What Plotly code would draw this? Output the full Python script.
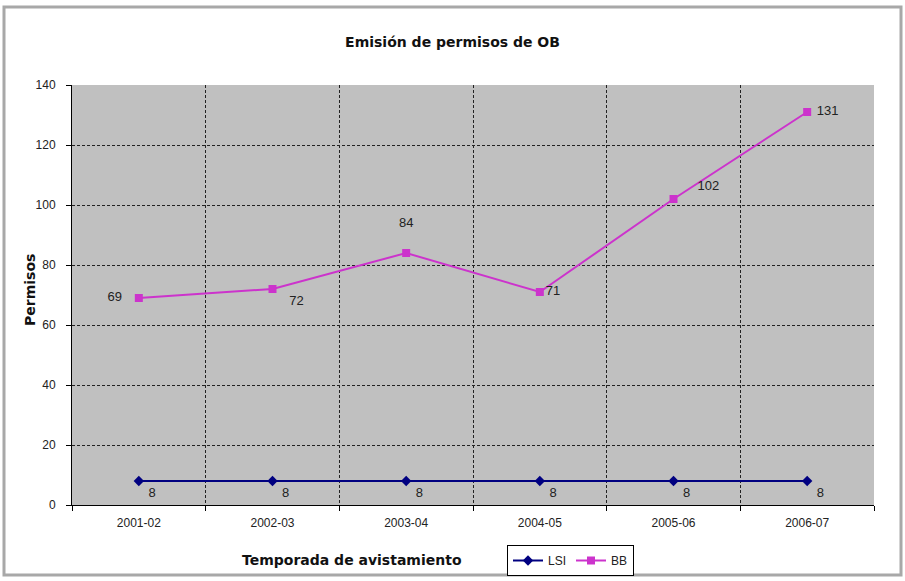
import plotly.graph_objects as go

seasons = ["2001-02", "2002-03", "2003-04", "2004-05", "2005-06", "2006-07"]
lsi = [8, 8, 8, 8, 8, 8]
bb = [69, 72, 84, 71, 102, 131]
bb_textpos = ["middle left", "bottom right", "top center", "middle right", "top right", "middle right"]
lsi_textpos = ["bottom right"] * 6
NB = "\u00a0"
bb_text = [f"{bb[0]}{NB*3}", f"{NB*3}{bb[1]}", f"{bb[2]}<br>{NB}", f"{bb[3]}", f"{NB*5}{bb[4]}", f"{NB}{bb[5]}"]
lsi_text = [f"{NB}{v}" for v in lsi]

FONT = "Liberation Sans, Arial, sans-serif"
BFONT = "DejaVu Sans, Verdana, sans-serif"

W, H = 905, 581
L, R, T, B = 72, 31, 85, 76
PW, PH = W - L - R, H - T - B


def px(x):
    return (x - L) / PW


def py(y):
    return (H - B - y) / PH


fig = go.Figure()
fig.add_trace(go.Scatter(
    x=seasons, y=lsi, name="LSI", mode="lines+markers+text",
    line=dict(color="#000080", width=2),
    marker=dict(symbol="diamond", size=8, color="#000080"),
    text=lsi_text, textposition=lsi_textpos,
    textfont=dict(family=FONT, size=13, color="#222222"),
))
fig.add_trace(go.Scatter(
    x=seasons, y=bb, name="BB", mode="lines+markers+text",
    line=dict(color="#cc33cc", width=2),
    marker=dict(symbol="square", size=8, color="#cc33cc"),
    text=bb_text, textposition=bb_textpos,
    textfont=dict(family=FONT, size=13, color="#222222"),
))

fig.update_layout(
    width=W, height=H,
    margin=dict(l=L, r=R, t=T, b=B, autoexpand=False),
    paper_bgcolor="white", plot_bgcolor="#c0c0c0",
    font=dict(family=FONT, size=12, color="#222222"),
    title=dict(text="<b>Emisión de permisos de OB</b>", x=0.5, xanchor="center",
               y=1 - 42 / H, yanchor="middle", font=dict(family=BFONT, size=14, color="#111111")),
    showlegend=True,
    legend=dict(orientation="h", xref="container", yref="container",
                x=507 / W, y=1 - 545 / H, xanchor="left", yanchor="top",
                bordercolor="#000000", borderwidth=1, bgcolor="white",
                font=dict(family=FONT, size=12, color="#222222"),
                itemwidth=30, tracegroupgap=0),
    xaxis=dict(
        type="category", range=[-0.5, 5.5], tickson="boundaries",
        showgrid=True, gridcolor="#222222", gridwidth=1, griddash="3px,2px",
        showline=True, linecolor="#000000", linewidth=1,
        ticks="outside", ticklen=5, tickcolor="#000000", ticklabelstandoff=7,
        tickfont=dict(family=FONT, size=12, color="#222222"),
        zeroline=False, automargin=False,
    ),
    yaxis=dict(
        range=[0, 140], dtick=20, tick0=0,
        showgrid=True, gridcolor="#222222", gridwidth=1, griddash="3px,2px",
        showline=True, linecolor="#000000", linewidth=1,
        ticks="outside", ticklen=5, tickcolor="#000000", ticklabelstandoff=8,
        tickfont=dict(family=FONT, size=12, color="#222222"),
        zeroline=False, automargin=False,
    ),
    annotations=[
        dict(text="<b>Temporada de avistamiento</b>", xref="paper", yref="paper",
             x=px(352), y=py(560), xanchor="center", yanchor="middle",
             showarrow=False, font=dict(family=BFONT, size=14, color="#111111")),
        dict(text="<b>Permisos</b>", xref="paper", yref="paper", textangle=-90,
             x=px(30), y=py(290), xanchor="center", yanchor="middle",
             showarrow=False, font=dict(family=BFONT, size=14, color="#111111")),
    ],
    shapes=[dict(
        type="rect", xref="paper", yref="paper",
        x0=px(4), x1=px(901), y0=py(575), y1=py(7),
        line=dict(color="#a8a8a8", width=3), fillcolor="rgba(0,0,0,0)", layer="below",
    )],
)

fig.write_html("out.html", config={"displayModeBar": False},
               post_script="document.body.style.margin='0';")
